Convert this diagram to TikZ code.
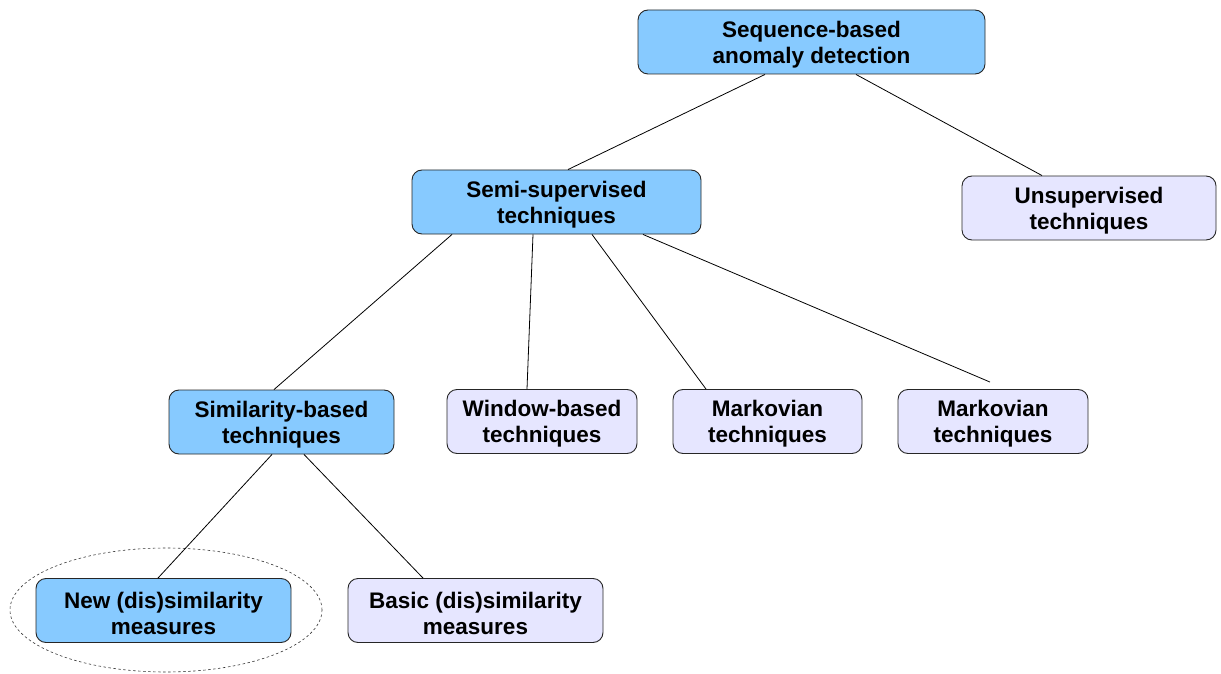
\documentclass[tikz,border=0pt]{standalone}
\usepackage{fontspec}
\setmainfont{Liberation Sans}
\usetikzlibrary{calc,shapes.geometric}
\definecolor{mainblue}{HTML}{87CAFF}
\definecolor{lavender}{HTML}{E6E6FF}
\tikzset{
  boxtext/.style={align=center, inner sep=0pt, yshift=-2.5pt,
    font=\fontsize{22.5}{26}\selectfont\bfseries},
  box/.style={draw=black!85, line width=0.9pt, rounded corners=10pt,
    minimum height=64pt, inner sep=0pt,
    label={[boxtext]center:{#1}}},
  keybox/.style={box={#1}, fill=mainblue},
  leafbox/.style={box={#1}, fill=lavender},
  link/.style={draw=black, line width=0.8pt},
}
\begin{document}
\begin{tikzpicture}[x=1pt,y=-1pt]
  \useasboundingbox (0,0) rectangle (1221,674);
  % hierarchy of techniques
  \node[keybox={Sequence-based\\anomaly detection}, minimum width=347pt] (root) at (811.5,42) {};
  \node[keybox={Semi-supervised\\techniques}, minimum width=289pt] (semi) at (556.5,202) {};
  \node[leafbox={Unsupervised\\techniques}, minimum width=254pt] (unsup) at (1089,208) {};
  \node[keybox={Similarity-based\\techniques}, minimum width=225pt] (sim) at (281.5,422) {};
  \node[leafbox={Window-based\\techniques}, minimum width=190pt] (win) at (542,421.5) {};
  \node[leafbox={Markovian\\techniques}, minimum width=189pt] (mark1) at (767.5,421.5) {};
  \node[leafbox={Markovian\\techniques}, minimum width=190pt] (mark2) at (993,421.5) {};
  \node[keybox={New (dis)similarity\\measures}, minimum width=255pt] (new) at (163.5,610.5) {};
  \node[leafbox={Basic (dis)similarity\\measures}, minimum width=255pt] (basic) at (475.5,610.5) {};
  % highlight around the new measures
  \node[draw=black!80, dash pattern=on 2.5pt off 2.5pt, line width=0.6pt, ellipse,
        minimum width=312pt, minimum height=124pt, inner sep=0pt] (focus) at (166,610) {};
  % connectors
  \draw[link] ([xshift=-46.5pt]root.south) -- ([xshift=11.5pt]semi.north);
  \draw[link] ([xshift=44.5pt]root.south) -- ([xshift=-47pt]unsup.north);
  \draw[link] ([xshift=-104.5pt]semi.south) -- ([xshift=-7.5pt]sim.north);
  \draw[link] ([xshift=-23.5pt]semi.south) -- ([xshift=-15pt]win.north);
  \draw[link] ([xshift=35.5pt]semi.south) -- ([xshift=-61.5pt]mark1.north);
  \coordinate (m2end) at ([xshift=-3pt,yshift=7pt]mark2.north);
  \draw[link] ([xshift=86.5pt]semi.south) -- (m2end);
  \draw[link] ([xshift=-9.5pt]sim.south) -- ([xshift=-5.5pt]new.north);
  \draw[link] ([xshift=22.5pt]sim.south) -- ([xshift=-52.5pt]basic.north);
\end{tikzpicture}
\end{document}
